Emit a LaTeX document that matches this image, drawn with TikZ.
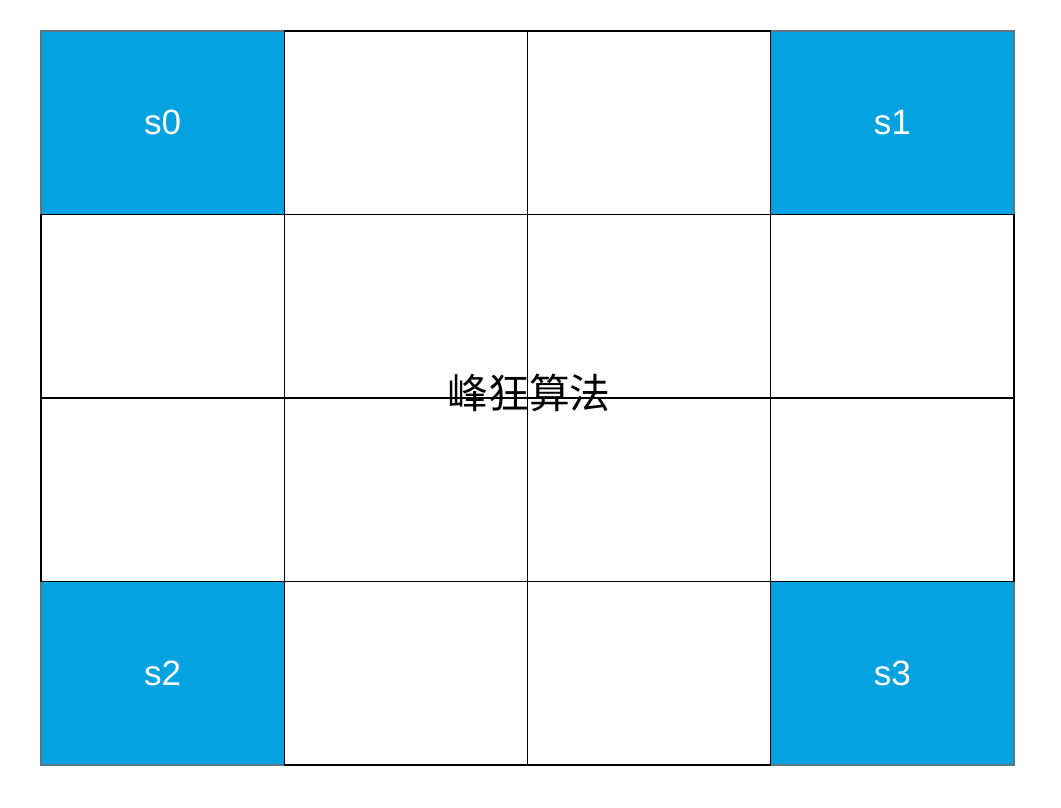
\documentclass[tikz,border=0pt]{standalone}
\usepackage{fontspec}
\setmainfont{Liberation Sans}
\newfontfamily\cjk{Noto Sans CJK SC}
\usepackage{xcolor}
\usetikzlibrary{positioning}

\definecolor{cellblue}{HTML}{04A2E0}
\definecolor{cellgray}{HTML}{5A7585}

\begin{document}
\begin{tikzpicture}[
  x=0.025cm, y=-0.025cm,
  cell/.style={draw=black,line width=0.8pt,fill=white,inner sep=0pt,outer sep=0pt,
               minimum width=6.081cm,minimum height=4.5875cm},
  seed/.style={cell,draw=cellgray,fill=cellblue,text=white,font=\fontsize{25}{30}\selectfont},
  title/.style={font=\cjk\fontsize{29}{34}\selectfont,inner sep=0pt}
]
\useasboundingbox (0,0) rectangle (1061,808);
%% ---- the 4x4 grid ---------------------------------------------------------
\node[seed] (s0) at (162.6,122.75) {s0};
\node[seed] (s1) at (892.4,122.75) {s1};
\node[seed] (s2) at (162.6,673.25) {s2};
\node[seed] (s3) at (892.4,673.25) {s3};
\foreach \r in {0,...,3}
  \foreach \c in {0,...,3} {
    \pgfmathtruncatemacro{\corner}{(\r==0 || \r==3) && (\c==0 || \c==3)}
    \ifnum\corner=0
      \node[cell] (c-\r-\c) at ({41+243.25*(\c+0.5)},{31+183.5*(\r+0.5)}) {};
    \fi
  }

%% ---- title on top of the middle -----------------------------------------
\node[title] (algo) at (529,393) {峰狂算法};
\end{tikzpicture}
\end{document}
